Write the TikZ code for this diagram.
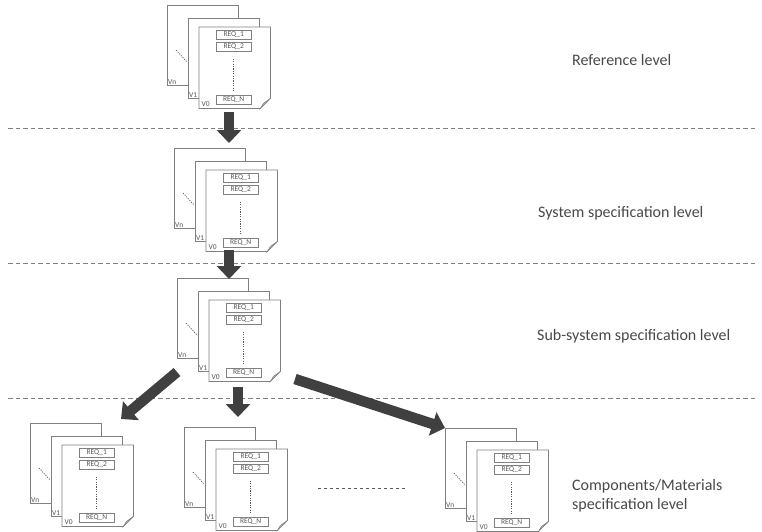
\documentclass[tikz,border=0pt]{standalone}
\usepackage{fontspec}
\setmainfont{Carlito}
\usetikzlibrary{arrows.meta}
\definecolor{linegray}{HTML}{808080}
\definecolor{txtgray}{HTML}{595959}
\definecolor{bigtxt}{HTML}{484848}
\definecolor{arrgray}{HTML}{404040}
\definecolor{foldgray}{HTML}{C8C8C8}
\tikzset{
  sheet/.style={draw=linegray, fill=white, line width=0.7pt, minimum width=71pt, minimum height=80pt, inner sep=0pt, anchor=north west},
  frontsheet/.style={minimum width=71pt, minimum height=81pt, inner sep=0pt, anchor=north west},
  reqbox/.style={draw=linegray, fill=white, line width=0.7pt, minimum width=35pt, minimum height=9pt, inner sep=0pt, font=\fontsize{7.5}{8}\selectfont, text=txtgray},
  vlab/.style={font=\fontsize{7.5}{8}\selectfont, text=txtgray, inner sep=0.5pt, anchor=south west},
  dotline/.style={draw=txtgray, line width=0.7pt, dash pattern=on 1.2pt off 1.2pt},
  levelline/.style={draw=linegray, line width=0.7pt, dash pattern=on 4.5pt off 3pt},
  bigarrow/.style={draw=arrgray, line width=10.5pt, -{Triangle[width=24pt,length=13pt]}},
  leveltext/.style={font=\fontsize{16}{19}\selectfont, text=bigtxt, anchor=west, align=left, inner sep=0pt},
}
\newcommand\docstack[3]{%
  \node[sheet] (#1n) at (#2,#3) {};
  \node[vlab] (#1nl) at ([shift={(0.5pt,1pt)}]#1n.south west) {Vn};
  \draw[dotline] ([shift={(9pt,-45pt)}]#1n.north west) -- ([shift={(20pt,-57pt)}]#1n.north west);
  \node[sheet] (#1a) at (#2+21,#3+13) {};
  \node[vlab] (#1al) at ([shift={(0.5pt,1pt)}]#1a.south west) {V1};
  \node[frontsheet] (#1z) at (#2+32,#3+22) {};
  \draw[linegray, fill=white, line width=0.7pt] (#1z.north west) -- (#1z.north east) -- ([yshift=10pt]#1z.south east) -- ([xshift=-10pt]#1z.south east) -- (#1z.south west) -- cycle;
  \draw[linegray, fill=foldgray, line width=0.5pt] ([xshift=-10pt]#1z.south east) -- ([yshift=10pt]#1z.south east) -- ([shift={(-7pt,5pt)}]#1z.south east) -- cycle;
  \node[vlab] (#1zl) at ([shift={(2pt,1pt)}]#1z.south west) {V0};
  \node[reqbox] (#1r1) at ([shift={(-1pt,-7.5pt)}]#1z.north) {REQ\_1};
  \node[reqbox] (#1r2) at ([shift={(-1pt,-20pt)}]#1z.north) {REQ\_2};
  \node[reqbox] (#1rn) at ([shift={(-1pt,-73pt)}]#1z.north) {REQ\_N};
  \draw[dotline] ([yshift=-7pt]#1r2.south) -- ([yshift=3pt]#1rn.north);
}
\begin{document}
\begin{tikzpicture}[x=1pt, y=-1pt]
\useasboundingbox (0,0) rectangle (762,531);
% level separators
\coordinate (l1a) at (8,128); \coordinate (l1b) at (757,128);
\coordinate (l2a) at (8,263); \coordinate (l2b) at (757,263);
\coordinate (l3a) at (8,398); \coordinate (l3b) at (757,398);
\draw[levelline] (l1a) -- (l1b);
\draw[levelline] (l2a) -- (l2b);
\draw[levelline] (l3a) -- (l3b);
% stacks
\docstack{s1}{167}{5}
\docstack{s2}{174}{148}
\docstack{s3}{177}{278}
\docstack{s4}{30}{423}
\docstack{s5}{184}{427}
\docstack{s6}{445}{428}
% arrows
\coordinate (a1s) at (229,112); \coordinate (a1e) at (229,143);
\coordinate (a2s) at (229,250); \coordinate (a2e) at (229,279);
\coordinate (a3s) at (238,387); \coordinate (a3e) at (238,417);
\coordinate (a4s) at (177,372); \coordinate (a4e) at (121,419);
\coordinate (a5s) at (295,379); \coordinate (a5e) at (445,428);
\draw[bigarrow] (a1s) -- (a1e);
\draw[bigarrow] (a2s) -- (a2e);
\draw[bigarrow] (a3s) -- (a3e);
\draw[bigarrow] (a4s) -- (a4e);
\draw[bigarrow] (a5s) -- (a5e);
% ellipsis between stacks
\coordinate (ea) at (318,488); \coordinate (eb) at (406,488);
\draw[draw=txtgray, line width=0.7pt, dash pattern=on 3pt off 3pt] (ea) -- (eb);
% level texts
\node[leveltext] (t1) at (572,60) {Reference level};
\node[leveltext] (t2) at (538,213) {System specification level};
\node[leveltext] (t3) at (537,336) {Sub-system specification level};
\node[leveltext] (t4) at (572,496) {Components/Materials\\specification level};
\end{tikzpicture}
\end{document}
